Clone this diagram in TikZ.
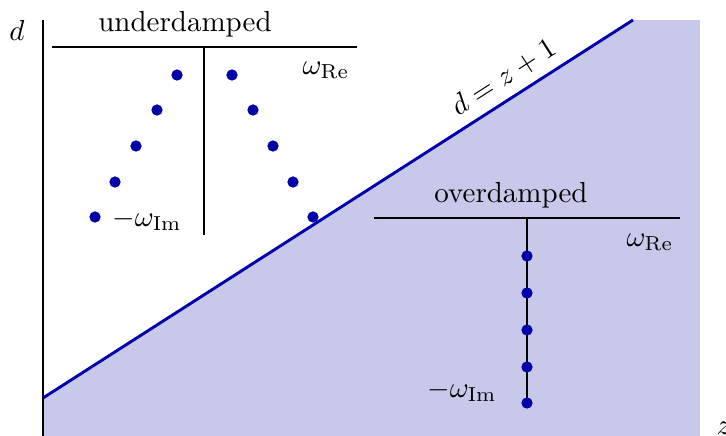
\documentclass[tikz,border=0pt]{standalone}
\definecolor{dotblue}{RGB}{0,0,168}
\definecolor{regionfill}{RGB}{200,200,234}
\begin{document}
\begin{tikzpicture}[x=0.345pt,y=-0.345pt,
  dot/.style={circle,fill=dotblue,inner sep=0pt,minimum size=3.9pt},
  axisline/.style={line width=0.5pt},
  boundary/.style={line width=1pt,draw=dotblue}]
\useasboundingbox (0,0) rectangle (726,436);
% shaded region
\fill[regionfill] (43,398) -- (633,20) -- (700,20) -- (700,460) -- (43,460) -- cycle;
% axis
\coordinate (axtop) at (43,20);
\coordinate (axbot) at (43,460);
\draw[axisline] (axtop) -- (axbot);
\node (dlab) at (17,30) {$d$};
\node (zlab) at (724,428) {$z$};
% boundary line
\coordinate (b0) at (43,398);
\coordinate (b1) at (633,20);
\draw[boundary] (b0) -- node[pos=0.8,sloped,above,inner sep=3pt] (blab) {$d = z + 1$} (b1);
% underdamped
\node (ulab) at (185,24) {underdamped};
\coordinate (uhl) at (52,47);
\coordinate (uhr) at (357,47);
\coordinate (uvt) at (204,47);
\coordinate (uvb) at (204,235);
\draw[axisline] (uhl) -- (uhr);
\draw[axisline] (uvt) -- (uvb);
\node (ure) at (326,70) {$\omega_{\mathrm{Re}}$};
\node (uim) at (147,220) {$-\omega_{\mathrm{Im}}$};
\node[dot] (ul1) at (177,75) {};
\node[dot] (ul2) at (157,110) {};
\node[dot] (ul3) at (136,146) {};
\node[dot] (ul4) at (115,182) {};
\node[dot] (ul5) at (95,217) {};
\node[dot] (ur1) at (232,75) {};
\node[dot] (ur2) at (253,110) {};
\node[dot] (ur3) at (273,146) {};
\node[dot] (ur4) at (293,182) {};
\node[dot] (ur5) at (313,217) {};
% overdamped
\node (olab) at (511,195) {overdamped};
\coordinate (ohl) at (374,218);
\coordinate (ohr) at (680,218);
\coordinate (ovt) at (527,218);
\coordinate (ovb) at (527,403);
\draw[axisline] (ohl) -- (ohr);
\draw[axisline] (ovt) -- (ovb);
\node (ore) at (650,242) {$\omega_{\mathrm{Re}}$};
\node (oim) at (462,391) {$-\omega_{\mathrm{Im}}$};
\node[dot] (o1) at (527,256) {};
\node[dot] (o2) at (527,293) {};
\node[dot] (o3) at (527,330) {};
\node[dot] (o4) at (527,367) {};
\node[dot] (o5) at (527,403) {};
\end{tikzpicture}
\end{document}
